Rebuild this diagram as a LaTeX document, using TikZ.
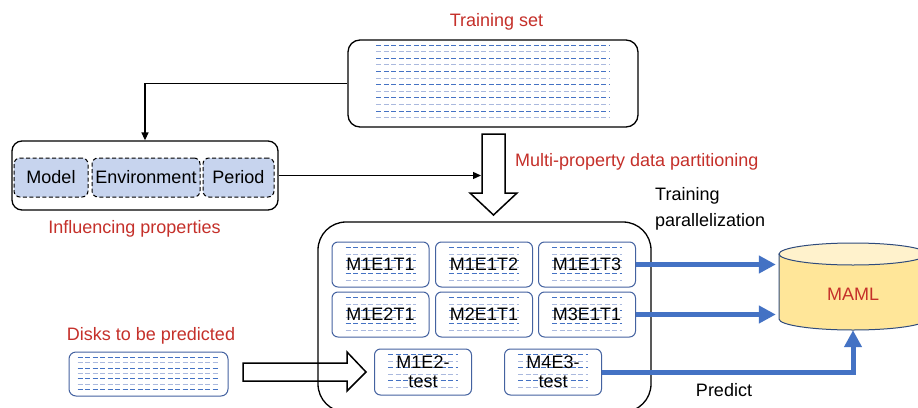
\documentclass[tikz,border=0pt]{standalone}
\usepackage{fontspec}
\setmainfont{Liberation Sans}
\usetikzlibrary{arrows.meta,calc,backgrounds}
\definecolor{redtxt}{RGB}{197,48,42}
\definecolor{bluearr}{RGB}{68,114,196}
\definecolor{boxblue}{RGB}{68,98,160}
\definecolor{dashdark}{RGB}{68,114,196}
\definecolor{dashlight}{RGB}{170,185,222}
\definecolor{propfill}{RGB}{199,212,238}
\definecolor{cylbody}{RGB}{255,230,153}
\definecolor{cyltop}{RGB}{255,242,204}
\definecolor{cylline}{RGB}{47,75,124}
\newcommand\txtfont{\fontsize{18}{18}\selectfont}
\newcommand\dashlines[5]{%
  \foreach \i in {1,...,#2}{%
    \pgfmathsetmacro\yy{#3+(\i-1)*#4}%
    \pgfmathtruncatemacro\oddi{mod(\i,2)}%
    \ifnum\oddi=1 \def\dc{dashdark}\else\def\dc{dashlight}\fi
    \draw[dashline,draw=\dc] ($(#1.north west)+(#5,\yy)$) -- ($(#1.north east)+(-#5,\yy)$);
  }}
\tikzset{
  lbl/.style={font=\txtfont, inner sep=0pt},
  redlbl/.style={lbl, text=redtxt},
  partbox/.style={draw=boxblue, line width=1pt, rounded corners=6pt, minimum width=97pt, minimum height=45pt, inner sep=0pt, font=\txtfont, align=center},
  databox/.style={draw=black, line width=1.3pt, rounded corners=12pt, inner sep=0pt},
  propbox/.style={draw=black, line width=1pt, dash pattern=on 4pt off 2.5pt, fill=propfill, rounded corners=6pt, minimum height=39pt, inner sep=0pt, font=\txtfont},
  conn/.style={draw=black, line width=1.3pt, -{Triangle[length=8pt,width=7pt]}},
  blueconn/.style={draw=bluearr, line width=5pt, -{Triangle[length=17pt,width=17pt]}},
  dashline/.style={line width=1pt, dash pattern=on 5pt off 2.5pt},
  bigarrow/.style={draw=black, line width=1.5pt, fill=white, line join=miter}
}
\begin{document}
\begin{tikzpicture}[x=1pt,y=-1pt]
\useasboundingbox (0,0) rectangle (918,407);
\begin{scope}[on background layer]
  \fill[white] (0,0) rectangle (918,407);
\end{scope}

% labels
\node[redlbl, anchor=base] (ltrain) at (496.5,26) {Training set};
\node[redlbl, anchor=base west] (lpart) at (515,166.5) {Multi-property data partitioning};
\node[redlbl, anchor=base] (linfl) at (134.5,233) {Influencing properties};
\node[redlbl, anchor=base] (ldisk) at (151,340.7) {Disks to be predicted};

% training set
\node[databox, minimum width=290pt, minimum height=87pt] (train) at (493,83.5) {};

% influencing properties
\node[databox, rounded corners=10pt, minimum width=266pt, minimum height=69pt] (infl) at (145,175.5) {};
\node[propbox, minimum width=74pt] (model) at (51,177.5) {Model};
\node[propbox, minimum width=108pt] (env) at (146,177.5) {Environment};
\node[propbox, minimum width=71pt] (period) at (238.5,177.5) {Period};

% big down arrow
\draw[bigarrow] (482,134) -- (505,134) -- (505,193) -- (517,193) -- (493.5,215) -- (470,193) -- (482,193) -- cycle;
\coordinate (dtarget) at (481,175.5);

% big right arrow
\draw[bigarrow] (243,363) -- (347,363) -- (347,352) -- (366,372) -- (347,391) -- (347,381) -- (243,381) -- cycle;

% partition box
\node[databox, rounded corners=28pt, minimum width=333pt, minimum height=190pt] (part) at (484.5,317) {};

% partitions
\node[partbox] (p11) at (380.5,264.5) {M1E1T1};
\node[partbox] (p12) at (484,264.5) {M1E1T2};
\node[partbox] (p13) at (587,264.5) {M1E1T3};
\node[partbox] (p21) at (380.5,314.5) {M1E2T1};
\node[partbox] (p22) at (484,314.5) {M2E1T1};
\node[partbox] (p23) at (587,314.5) {M3E1T1};
\node[partbox, minimum height=46pt] (t1) at (423,372) {M1E2-\\[1pt]test};
\node[partbox, minimum height=46pt] (t2) at (553,372) {M4E3-\\[1pt]test};

% disks to be predicted
\node[draw=boxblue, line width=1pt, rounded corners=7pt, minimum width=159pt, minimum height=44pt, inner sep=0pt] (disk) at (148.5,374) {};

% cylinder MAML
\fill[cylbody] (779,254) -- (779,319) arc[start angle=180, end angle=0, x radius=74, y radius=11] -- (927,254) -- cycle;
\draw[cylline, line width=1pt] (779,254) -- (779,319) arc[start angle=180, end angle=0, x radius=74, y radius=11] -- (927,254);
\filldraw[fill=cyltop, draw=cylline, line width=1pt] (853,254) ellipse[x radius=74, y radius=11];
\node[lbl, text=redtxt, minimum width=148pt, minimum height=87pt] (maml) at (853,286.5) {};
\node[lbl, text=redtxt] (mamltxt) at (853,294) {MAML};

% dashed fills
\begin{scope}[on background layer]
  \dashlines{train}{12}{5.7}{6.6}{29}
  \dashlines{disk}{7}{6}{5.3}{9}
  \foreach \n in {p11,p12,p13,p21,p22,p23,t1,t2}{\dashlines{\n}{6}{6}{6.5}{14}}
\end{scope}

% connectors
\draw[conn] (train.west) -| (infl.north);
\draw[conn] (infl.east) -- (dtarget);
\draw[blueconn, shorten >=3pt] (p13.east) -- (p13.east -| maml.west);
\draw[blueconn, shorten >=3pt] (p23.east) -- (p23.east -| maml.west);
\draw[blueconn] (t2.east) -| (maml.south);

% connector labels
\node[lbl, anchor=base west, align=left, font=\fontsize{18}{26.7}\selectfont] (ltp) at (655,226.7) {Training\\parallelization};
\node[lbl, anchor=base] (lpred) at (724,396.7) {Predict};
\end{tikzpicture}
\end{document}
